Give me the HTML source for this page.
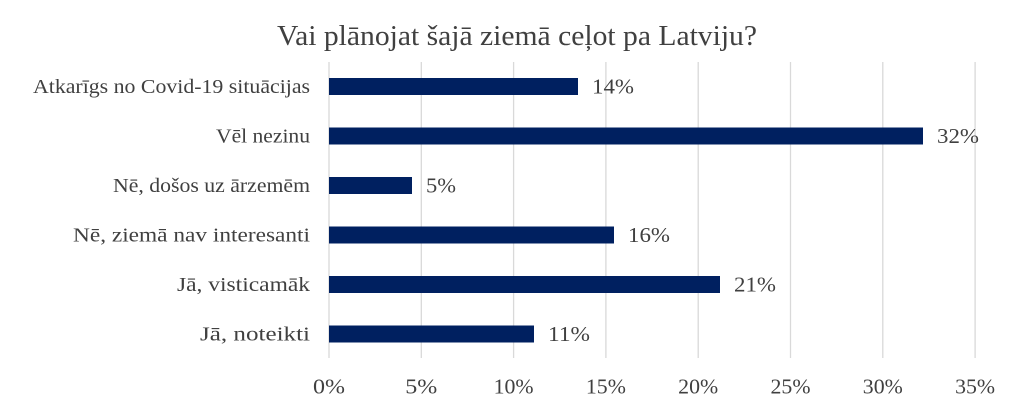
<!DOCTYPE html>
<html><head><meta charset="utf-8"><style>
body{margin:0;background:#fff;}
svg text{font-family:"Liberation Serif","DejaVu Serif",serif;fill:#404040;}
</style></head><body>
<svg width="1024" height="405" xmlns="http://www.w3.org/2000/svg">
<rect width="1024" height="405" fill="#fff"/>
<text x="277" y="45" font-size="28" textLength="480" lengthAdjust="spacingAndGlyphs">Vai plānojat šajā ziemā ceļot pa Latviju?</text>
<g stroke="#d9d9d9" stroke-width="1.3">
<line x1="329" y1="62" x2="329" y2="358"/>
<line x1="421.3" y1="62" x2="421.3" y2="358"/>
<line x1="513.6" y1="62" x2="513.6" y2="358"/>
<line x1="605.9" y1="62" x2="605.9" y2="358"/>
<line x1="698.2" y1="62" x2="698.2" y2="358"/>
<line x1="790.5" y1="62" x2="790.5" y2="358"/>
<line x1="882.8" y1="62" x2="882.8" y2="358"/>
<line x1="975.1" y1="62" x2="975.1" y2="358"/>
</g>
<g fill="#002060">
<rect x="329" y="78" width="249" height="17"/>
<rect x="329" y="127.5" width="594" height="17"/>
<rect x="329" y="177" width="83" height="17"/>
<rect x="329" y="226.5" width="285" height="17"/>
<rect x="329" y="276" width="391" height="17"/>
<rect x="329" y="325.5" width="205" height="17"/>
</g>
<g font-size="21">
<text x="592" y="93.5" textLength="42" lengthAdjust="spacingAndGlyphs">14%</text>
<text x="937" y="143" textLength="42" lengthAdjust="spacingAndGlyphs">32%</text>
<text x="426" y="192.5" textLength="30" lengthAdjust="spacingAndGlyphs">5%</text>
<text x="628" y="242" textLength="42" lengthAdjust="spacingAndGlyphs">16%</text>
<text x="734" y="291.5" textLength="42" lengthAdjust="spacingAndGlyphs">21%</text>
<text x="548" y="341" textLength="42" lengthAdjust="spacingAndGlyphs">11%</text>
</g>
<g font-size="20">
<text x="33" y="93" textLength="277" lengthAdjust="spacingAndGlyphs">Atkarīgs no Covid-19 situācijas</text>
<text x="216" y="142.5" textLength="94" lengthAdjust="spacingAndGlyphs">Vēl nezinu</text>
<text x="113" y="192" textLength="197" lengthAdjust="spacingAndGlyphs">Nē, došos uz ārzemēm</text>
<text x="73" y="241.5" textLength="237" lengthAdjust="spacingAndGlyphs">Nē, ziemā nav interesanti</text>
<text x="177" y="291" textLength="133" lengthAdjust="spacingAndGlyphs">Jā, visticamāk</text>
<text x="200" y="340.5" textLength="110" lengthAdjust="spacingAndGlyphs">Jā, noteikti</text>
</g>
<g font-size="21">
<text x="313" y="393.5" textLength="32" lengthAdjust="spacingAndGlyphs">0%</text>
<text x="405.3" y="393.5" textLength="32" lengthAdjust="spacingAndGlyphs">5%</text>
<text x="493.6" y="393.5" textLength="40" lengthAdjust="spacingAndGlyphs">10%</text>
<text x="585.9" y="393.5" textLength="40" lengthAdjust="spacingAndGlyphs">15%</text>
<text x="678.2" y="393.5" textLength="40" lengthAdjust="spacingAndGlyphs">20%</text>
<text x="770.5" y="393.5" textLength="40" lengthAdjust="spacingAndGlyphs">25%</text>
<text x="862.8" y="393.5" textLength="40" lengthAdjust="spacingAndGlyphs">30%</text>
<text x="955.1" y="393.5" textLength="40" lengthAdjust="spacingAndGlyphs">35%</text>
</g>
</svg>
</body></html>
